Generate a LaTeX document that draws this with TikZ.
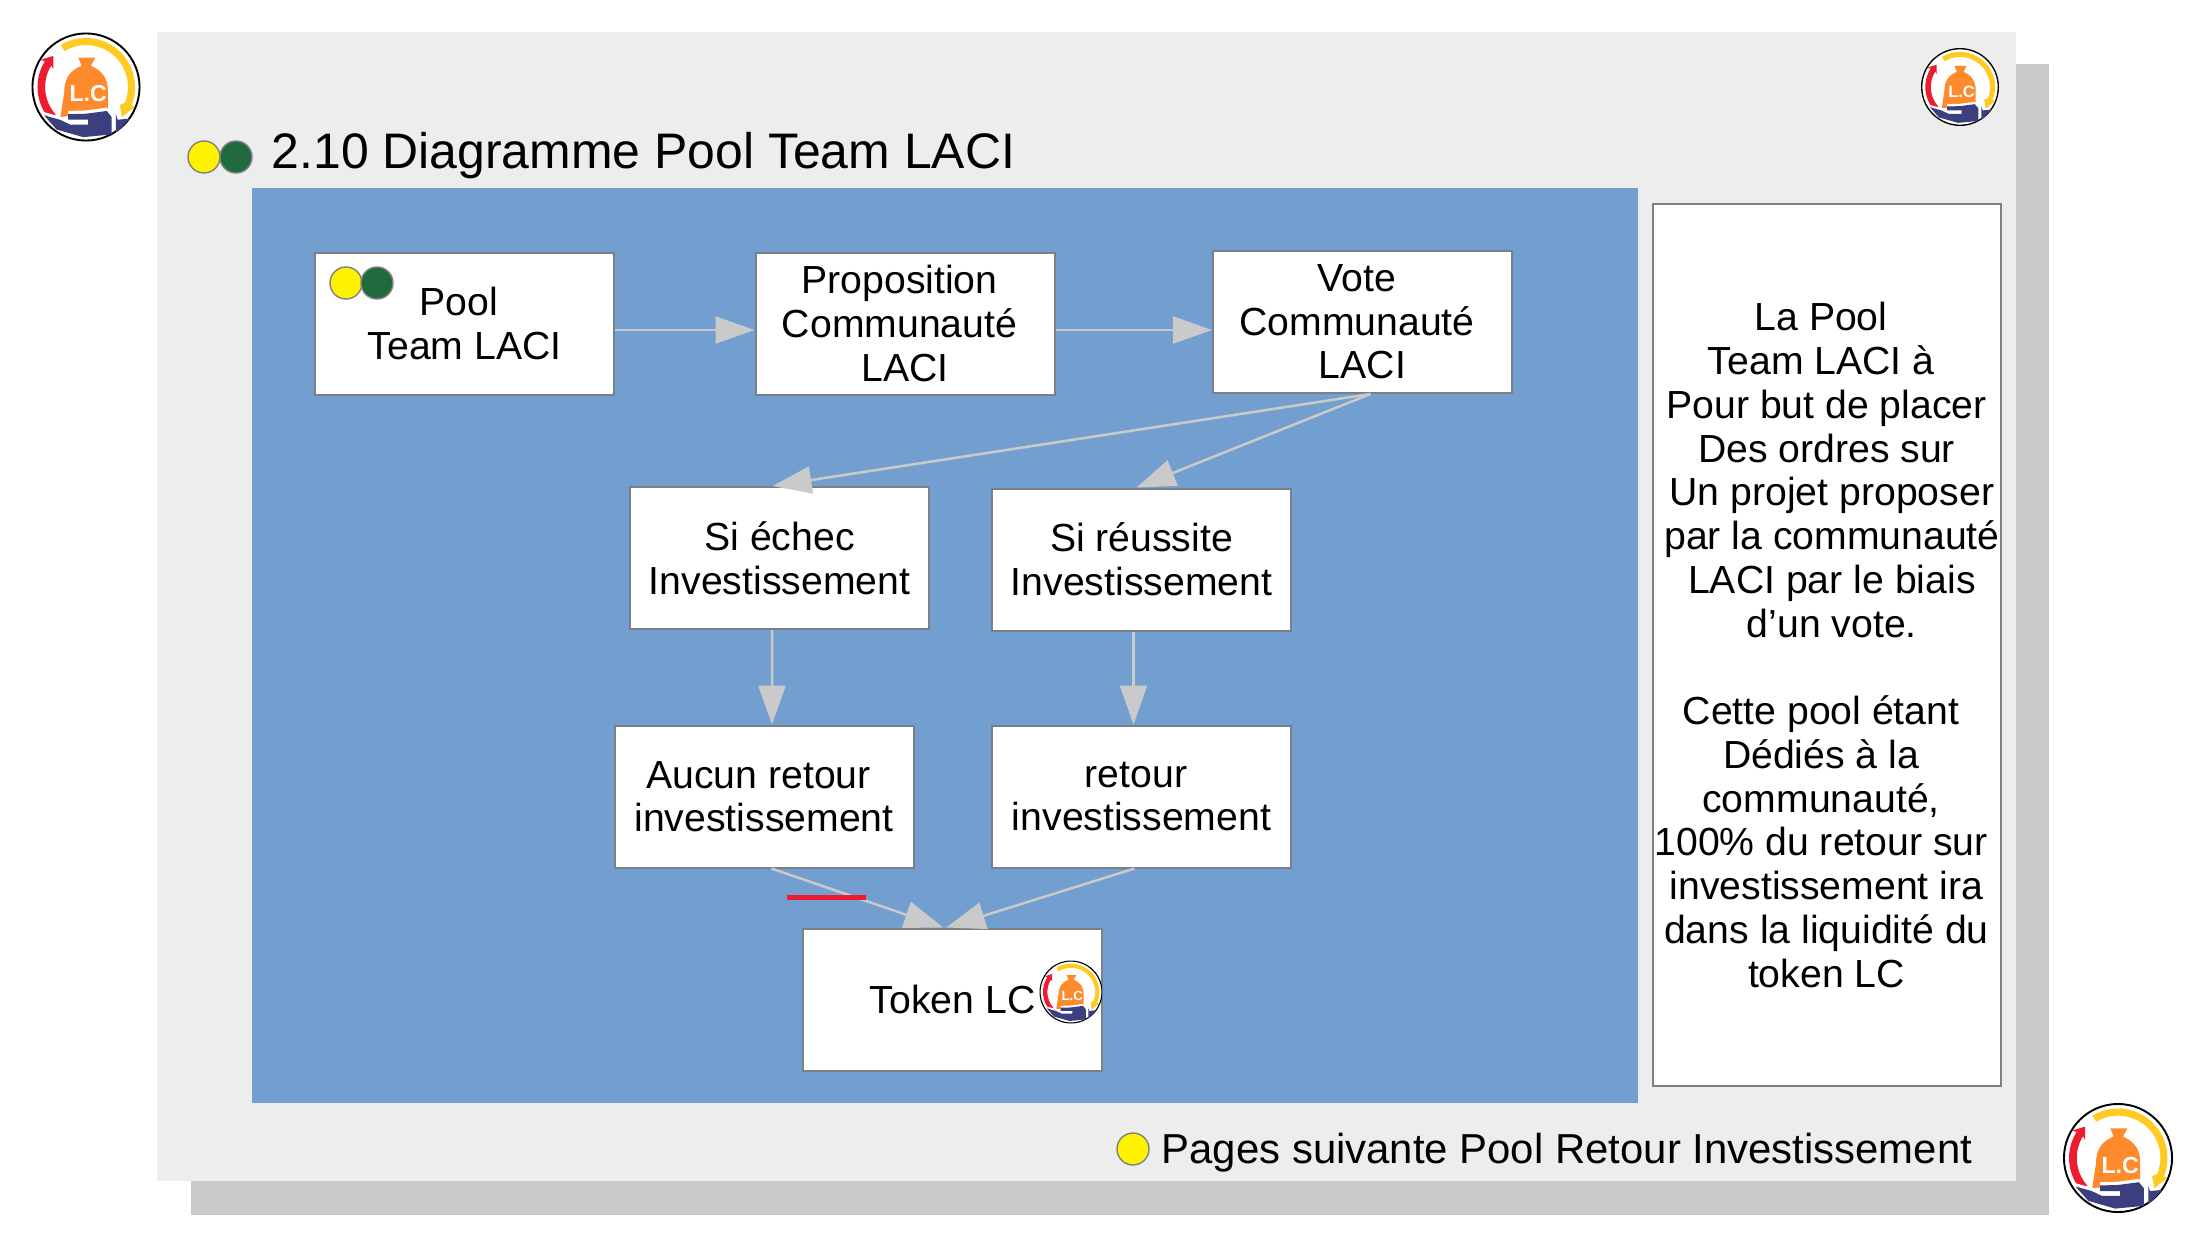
\documentclass[tikz,border=0pt]{standalone}
\usepackage{fontspec}
\setmainfont{Liberation Sans}
\usepackage{tikz}
\usetikzlibrary{arrows.meta}
\definecolor{panelgray}{HTML}{EDEDED}
\definecolor{shadowgray}{HTML}{C9C9C9}
\definecolor{bgblue}{HTML}{729FCF}
\definecolor{boxedge}{HTML}{7A808A}
\definecolor{arrowgray}{HTML}{CACACA}
\definecolor{dotgreen}{HTML}{1F6B3E}
\definecolor{logoyellow}{HTML}{FFCB22}
\definecolor{logored}{HTML}{ED1C2E}
\definecolor{logoorange}{HTML}{FF8A2B}
\definecolor{logoblue}{HTML}{3B3F7E}
\newcommand{\gapsp}{\mbox{\kern.278em}}
\newcommand{\handpath}{(-.77,-.52) -- (-.48,-.6) -- (-.29,-.69) -- (.04,-.69) -- (.04,-.6) -- (-.33,-.6) -- (-.33,-.5) -- (0,-.49) -- (.38,-.44) -- (.47,-.55) -- (.47,-.87) -- (-.05,-.92) -- (-.54,-.78) -- cycle}
\tikzset{
	pics/lclogo/.style={code={
		\fill[white] (0,0) circle (1);
		\fill[black,even odd rule] (0,0) circle (1) (0,0) circle (.965);
		% fleches
		\fill[logoyellow] (121:.9) arc (121:-22:.9) -- (.9,-.36) -- (.66,-.55) -- (.62,-.33) -- (-22:.77) arc (-22:121:.77) -- cycle;
		\fill[logored] (222:.75) arc (222:148:.75) -- (-.6,.33) -- (-.6,.57) -- (-.83,.5) -- (148:.89) arc (148:222:.89) -- cycle;
		% sac
		\fill[logoorange] (-.14,.54) -- (.17,.54) -- (.09,.39) .. controls (.3,.3) and (.4,.15) .. (.4,-.05) -- (.4,-.45) -- (-.47,-.55) -- (-.4,-.1) .. controls (-.4,.15) and (-.3,.3) .. (-.08,.39) -- cycle;
		\node[white,font=\fontsize{12}{12}\bfseries\selectfont,transform shape,inner sep=0pt] (-text) at (.04,-.13) {L.C};
		% main
		\fill[white,shift={(0,.06)}] \handpath;
		\fill[logoblue] \handpath;
		\fill[logoblue] (.55,-.5) -- (.58,-.6) -- (.8,-.58) -- (.6,-.8) -- (.55,-.83) -- cycle;
	}},
	dotyellow/.style={circle,draw=gray,thin,fill=yellow,minimum size=.32cm,inner sep=0pt},
	dotgreen/.style={circle,draw=gray,thin,fill=dotgreen,minimum size=.32cm,inner sep=0pt}
}

\begin{document}
\begin{tikzpicture}
	\useasboundingbox (0,0) rectangle (22.05,12.4);
	\fill[shadowgray] (1.91,0.25) rectangle (20.49,11.76);
	\fill[panelgray] (1.57,0.59) rectangle (20.16,12.08);
	\fill[bgblue] (2.52,1.37) rectangle (16.38,10.52);

	\node[anchor=base west,inner sep=0pt,font=\fontsize{14.2}{16}\selectfont] (title) at (2.71,10.71) {2.10 Diagramme Pool Team LACI};
	\node[anchor=base west,inner sep=0pt,font=\fontsize{11.92}{14}\selectfont] (footer) at (11.61,0.77) {Pages suivante Pool Retour Investissement};

	\begin{scope}[every node/.style={rectangle,draw=boxedge,line width=.02cm,fill=white,inner sep=0pt,align=center,minimum width=2.99cm,minimum height=1.42cm,font=\fontsize{11.15}{12.4}\selectfont}]
		\node (pool) at (4.645,9.165) {Pool\gapsp\\Team LACI};
		\node (prop) at (9.05,9.165) {Proposition\gapsp\\Communauté\gapsp\\LACI};
		\node (vote) at (13.625,9.18) {Vote\gapsp\\Communauté\gapsp\\LACI};

		\node (si_echec) at (7.795,6.82) {Si échec\\Investissement};
		\node (si_reussite) at (11.415,6.805) {Si réussite\\Investissement};

		\node (aucun) at (7.64,4.435) {Aucun retour\gapsp\\investissement};
		\node (retour) at (11.415,4.435) {retour\gapsp\\investissement};

		\node (token) at (9.5275,2.405) {Token LC};

		\node[minimum width=3.48cm,minimum height=8.82cm,font=\fontsize{11.15}{12.45}\selectfont] (side) at (18.265,5.95) {La Pool\gapsp\\Team LACI à\gapsp\\Pour but de placer\\Des ordres sur\\\gapsp Un projet proposer\\\gapsp par la communauté\\\gapsp LACI par le biais\\\gapsp d’un vote.\\\mbox{}\\Cette pool étant\gapsp\\Dédiés à la\gapsp\\communauté,\gapsp\\100\% du retour sur\gapsp\\investissement ira\\dans la liquidité du\\token LC};
	\end{scope}

	\begin{scope}[>={Triangle[length=.39cm,width=.27cm]},color=arrowgray,line width=.025cm]
		\path [->] ([yshift=-.065cm]pool.east) edge ([yshift=-.065cm]prop.west);
		\path [->] ([yshift=-.065cm]prop.east) edge ([yshift=-.08cm]vote.west);

		\path [->] ([xshift=.08cm]vote.south) edge ([xshift=-.07cm]si_echec.north);
		\path [->] ([xshift=.08cm]vote.south) edge ([xshift=-.05cm]si_reussite.north);

		\path [->] ([xshift=-.075cm]si_echec.south) edge ([xshift=.08cm]aucun.north);
		\path [->] ([xshift=-.08cm]si_reussite.south) edge ([xshift=-.08cm]retour.north);

		\path [->] ([xshift=.075cm]aucun.south) edge ([xshift=-.095cm]token.north);
		\path [->] ([xshift=-.07cm]retour.south) edge ([xshift=-.065cm]token.north);
	\end{scope}

	\coordinate (red_a) at (7.87,3.43);
	\coordinate (red_b) at (8.66,3.43);
	\draw[logored,line width=.05cm] (red_a) -- (red_b);

	\node[dotyellow] (title_yellow) at (2.04,10.83) {};
	\node[dotgreen] (title_green) at (2.36,10.83) {};
	\node[dotyellow] (pool_yellow) at (3.46,9.57) {};
	\node[dotgreen] (pool_green) at (3.77,9.57) {};
	\node[dotyellow] (footer_yellow) at (11.33,0.91) {};

	\pic[scale=.545] (logo_a) at (.86,11.53) {lclogo};
	\pic[scale=.39] (logo_b) at (19.60,11.53) {lclogo};
	\pic[scale=.55] (logo_c) at (21.18,.82) {lclogo};
	\pic[scale=.315] (logo_d) at (10.71,2.48) {lclogo};
\end{tikzpicture}
\end{document}
